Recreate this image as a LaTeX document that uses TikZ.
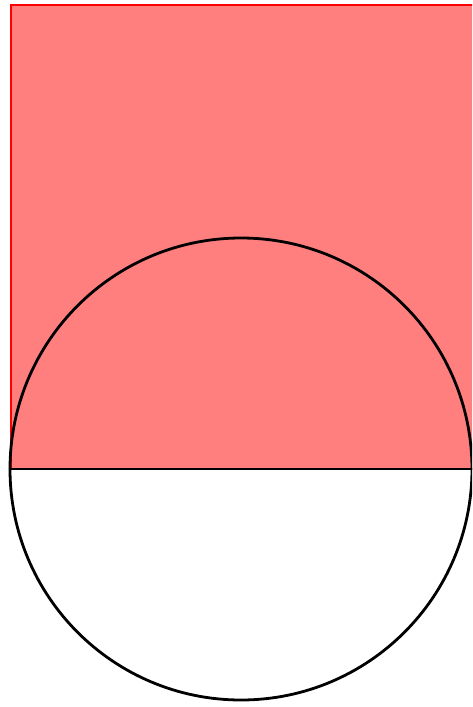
\documentclass[tikz,border=0pt]{standalone}
\begin{document}
\begin{tikzpicture}[x=1pt,y=-1pt,
  sq/.style={draw=red,fill=red,fill opacity=0.5,line width=2pt},
  circ/.style={draw=black,line width=2.8pt}]
\useasboundingbox (0,0) rectangle (472,707);
\begin{scope}
\clip (0,0) rectangle (472,707);
\path[sq] (10.5,4.5) rectangle (475.5,469);
\node[circle,circ,minimum size=462pt,inner sep=0pt] (c) at (241,469) {};
\coordinate (L) at (c.west);
\coordinate (R) at (c.east);
\draw[circ] (L) -- (R);
\end{scope}
\end{tikzpicture}
\end{document}
